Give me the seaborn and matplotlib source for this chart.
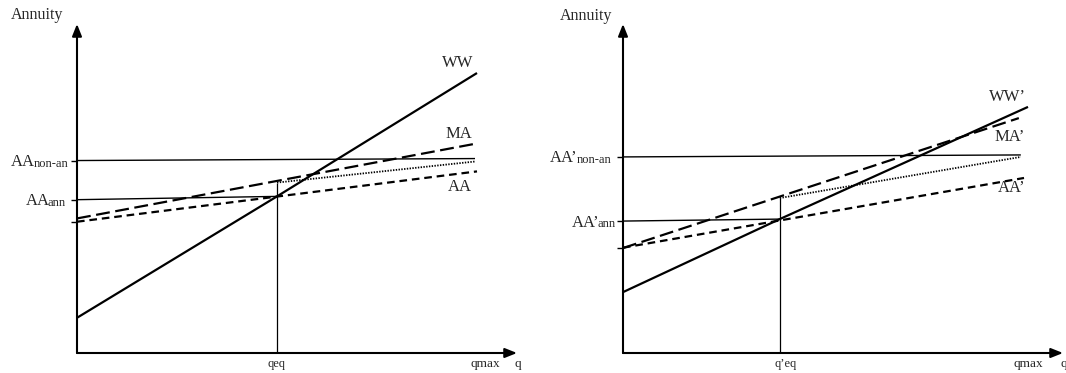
import matplotlib
matplotlib.use("Agg")
import matplotlib.pyplot as plt
import seaborn as sns

# ---------------- data ----------------
# Left panel
L_ww_x, L_ww_y = [0.0, 5.0, 10.0], [1.07, 4.76, 8.51]
L_ma_x, L_ma_y = [0.0, 10.0], [4.09, 6.37]
L_aa_x, L_aa_y = [0.0, 10.0], [3.99, 5.52]
L_dot_x, L_dot_y = [5.0, 9.95], [5.18, 5.82]
L_nonan_x, L_nonan_y = [0.0, 9.95], [5.85, 5.91]
L_ann_x, L_ann_y = [0.0, 5.0], [4.66, 4.76]
L_qeq, L_qeq_top = 5.0, 5.18
L_qmax = 10.2
L_labels = ["WW", "MA", "AA"]
L_label_x = [9.53, 9.55, 9.58]
L_label_y = [8.81, 6.65, 5.06]
L_ytick_main = ["AA", "AA"]
L_ytick_sub = ["non-an", "ann"]
L_xtick = ["qeq", "qmax"]

# Right panel
R_ww_x, R_ww_y = [0.0, 3.94, 10.18], [1.85, 4.07, 7.48]
R_ma_x, R_ma_y = [0.0, 9.95], [3.19, 7.14]
R_aa_x, R_aa_y = [0.0, 10.08], [3.20, 5.32]
R_dot_x, R_dot_y = [3.94, 10.0], [4.71, 5.96]
R_nonan_x, R_nonan_y = [0.0, 10.0], [5.96, 6.02]
R_ann_x, R_ann_y = [0.0, 3.94], [4.01, 4.07]
R_qeq, R_qeq_top = 3.94, 4.71
R_qeq_label_x = 4.1
R_qmax = 10.18
R_labels = ["WW\u2019", "MA\u2019", "AA\u2019"]
R_label_x = [9.67, 9.72, 9.77]
R_label_y = [7.78, 6.57, 5.02]
R_ytick_main = ["AA\u2019", "AA\u2019"]
R_ytick_sub = ["non-an", "ann"]
R_xtick = ["q\u2019eq", "qmax"]

# ---------------- style ----------------
sns.set_style("white")
plt.rcParams["font.family"] = ["Liberation Serif", "DejaVu Serif"]
plt.rcParams["lines.scale_dashes"] = False

DPI = 100
fig = plt.figure(figsize=(10.66, 3.73), dpi=DPI)
renderer = fig.canvas.get_renderer()

axL = fig.add_axes([77 / 1066, 20 / 373, 440 / 1066, 329 / 373])
axR = fig.add_axes([623 / 1066, 20 / 373, 440 / 1066, 329 / 373])
axL.set_xlim(0, 11.0)
axR.set_xlim(0, 11.06)
for ax in (axL, axR):
    ax.set_ylim(0, 10.0)
    for s in ax.spines.values():
        s.set_visible(False)
    ax.set_xticks([])
    ax.patch.set_alpha(0)


def line(ax, x, y, lw, dashes=None):
    sns.lineplot(x=x, y=y, ax=ax, color="black", linewidth=lw,
                 estimator=None, sort=False, legend=False)
    ln = ax.lines[-1]
    ln.set_solid_capstyle("butt")
    if dashes is not None:
        ln.set_dashes(dashes)
    return ln


def panel(ax, ww, ma, aa, dot, nonan, ann, qeq, qeq_top, qeq_lx, qmax,
          labels, lx, ly, ymain, ysub, ygaps, xticks, qx):
    # axes with arrows
    arrow = dict(arrowstyle="-|>,head_length=0.55,head_width=0.22",
                 lw=1.5, color="black", shrinkA=0, shrinkB=0,
                 mutation_scale=13)
    ax.annotate("", xy=(1, 0), xytext=(0, 0), xycoords="axes fraction",
                arrowprops=arrow)
    ax.annotate("", xy=(0, 1), xytext=(0, 0), xycoords="axes fraction",
                arrowprops=arrow)
    # curves
    line(ax, nonan[0], nonan[1], 1.0)
    line(ax, ann[0], ann[1], 1.0)
    line(ax, [qeq, qeq], [0, qeq_top], 0.9)
    line(ax, dot[0], dot[1], 1.3, dashes=(1.0, 1.0))
    line(ax, aa[0], aa[1], 1.6, dashes=(5.5, 3.5))
    line(ax, ma[0], ma[1], 1.6, dashes=(10.0, 4.0))
    line(ax, ww[0], ww[1], 1.6)
    # curve labels
    for t, x, y in zip(labels, lx, ly):
        ax.text(x, y, t, fontsize=12, ha="center", va="center")
    # y ticks
    ax.set_yticks([ann[1][0], nonan[1][0], aa[1][0]])
    ax.set_yticklabels([])
    ax.tick_params(axis="y", direction="out", length=4, width=1.0,
                   color="black", left=True, pad=0)
    for y, m, s, g in zip([nonan[1][0], ann[1][0]], ymain, ysub, ygaps):
        ts = ax.annotate(s, xy=(0, y), xycoords=("axes fraction", "data"),
                         xytext=(-g * 0.72, -4.3), textcoords="offset points",
                         ha="right", va="baseline", fontsize=9)
        w = ts.get_window_extent(renderer).width * 72 / DPI
        ax.annotate(m, xy=(0, y), xycoords=("axes fraction", "data"),
                    xytext=(-g * 0.72 - w + 1.2, -4.0),
                    textcoords="offset points",
                    ha="right", va="baseline", fontsize=12)
    # x labels
    tr = ax.get_xaxis_transform()
    ax.text(qeq_lx, -0.034, xticks[0], fontsize=9, ha="center", va="center",
            transform=tr)
    ax.text(qmax, -0.034, xticks[1], fontsize=9.5, ha="center", va="center",
            transform=tr)
    ax.text(qx, -0.034, "q", fontsize=9.5, ha="left", va="center",
            transform=tr)


panel(axL, (L_ww_x, L_ww_y), (L_ma_x, L_ma_y), (L_aa_x, L_aa_y),
      (L_dot_x, L_dot_y), (L_nonan_x, L_nonan_y), (L_ann_x, L_ann_y),
      L_qeq, L_qeq_top, L_qeq, L_qmax, L_labels, L_label_x, L_label_y,
      L_ytick_main, L_ytick_sub, [9, 11], L_xtick, 10.93)
panel(axR, (R_ww_x, R_ww_y), (R_ma_x, R_ma_y), (R_aa_x, R_aa_y),
      (R_dot_x, R_dot_y), (R_nonan_x, R_nonan_y), (R_ann_x, R_ann_y),
      R_qeq, R_qeq_top, R_qeq_label_x, R_qmax, R_labels, R_label_x, R_label_y,
      R_ytick_main, R_ytick_sub, [12, 7], R_xtick, 11.0)

fig.text(63 / 1066, 1 - 15 / 373, "Annuity", fontsize=11.5, ha="right",
         va="center")
fig.text(612 / 1066, 1 - 16 / 373, "Annuity", fontsize=11.5, ha="right",
         va="center")

fig.savefig("out.png", dpi=DPI)
